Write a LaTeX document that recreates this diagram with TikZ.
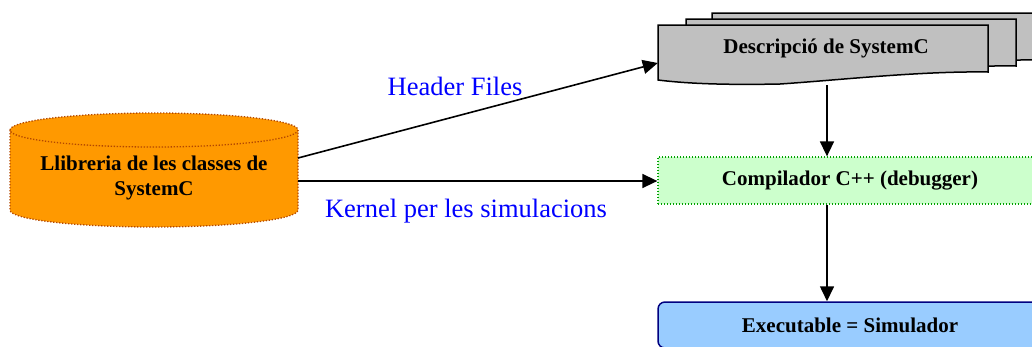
\documentclass[tikz,border=0pt]{standalone}
\usepackage{fontspec}
\setmainfont{Liberation Serif}
\usetikzlibrary{arrows.meta,calc}
\definecolor{docgray}{HTML}{C0C0C0}
\definecolor{libfill}{HTML}{FF9900}
\definecolor{libedge}{HTML}{B34700}
\definecolor{compfill}{HTML}{CCFFCC}
\definecolor{compedge}{HTML}{00A000}
\definecolor{exefill}{HTML}{99CCFF}
\definecolor{exeedge}{HTML}{000080}
\definecolor{lblblue}{HTML}{0000FF}
\tikzset{
  boldtext/.style={font=\fontsize{21}{25}\selectfont\bfseries, text=black, align=center},
  lbl/.style={font=\fontsize{26.5}{30}\selectfont, text=lblblue, inner sep=0pt},
  page/.style={fill=docgray, draw=black, line width=1.5pt, line join=miter},
  flow/.style={draw=black, line width=1.6pt, -{Triangle[length=15pt,width=14pt]}},
  dotline/.style={line width=1.3pt, dash pattern=on 1.3pt off 1.7pt},
}
\newcommand{\docsheet}{%
  (658,25) -- (988,25) -- (988,72)
  .. controls (920,71) and (840,80) .. (780,84)
  .. controls (730,85) and (690,84) .. (658,80) -- cycle}
\begin{document}
\begin{tikzpicture}[x=1pt,y=-1pt]
  \useasboundingbox (0,0) rectangle (1032,346);
  \clip (0,0) rectangle (1032,346);

  % stack of source documents, back to front
  \path[page, shift={(54,-12)}] \docsheet;
  \path[page, shift={(28,-6)}] \docsheet;
  \path[page] \docsheet;
  \node[minimum width=330pt, minimum height=55pt, inner sep=0pt] (desc) at (823,52.5) {};
  \node[boldtext] (desctext) at (826,48) {Descripció de SystemC};

  % class library cylinder (y axis points down, so the lower rim runs through 90 degrees)
  \path[fill=libfill] (10,130) -- (10,210) arc[start angle=180, end angle=0, x radius=144, y radius=17]
        -- (298,130) arc[start angle=360, end angle=180, x radius=144, y radius=17] -- cycle;
  \draw[libedge, dotline] (10,130) -- (10,210) arc[start angle=180, end angle=0, x radius=144, y radius=17]
        -- (298,130);
  \draw[libedge, dotline] (154,130) ellipse[x radius=144, y radius=17];
  \node[boldtext] (lib) at (154,178) {Llibreria de les classes de\\SystemC};
  \coordinate (libH) at (298,158);
  \coordinate (libK) at (298,181);

  % compiler and executable
  \node[boldtext, fill=compfill, draw=compedge, dotline, minimum width=384pt, minimum height=47pt]
    (comp) at (850,180.5) {Compilador C++ (debugger)};
  \node[boldtext, fill=exefill, draw=exeedge, line width=1.5pt, rounded corners=7pt,
        minimum width=384pt, minimum height=46pt]
    (exe) at (850,325) {Executable = Simulador};

  % connectors
  \coordinate (dtop) at (827,85);
  \draw[flow] (libH) -- ([yshift=-10.5pt]desc.west);
  \draw[flow] (libK) -- (libK -| comp.west);
  \draw[flow] (dtop) -- (dtop |- comp.north);
  \draw[flow] (comp.south -| dtop) -- (exe.north -| dtop);

  % connector labels
  \node[lbl] (hf) at (455,86) {Header Files};
  \node[lbl] (kp) at (466,211) {Kernel per les simulacions};
\end{tikzpicture}
\end{document}
